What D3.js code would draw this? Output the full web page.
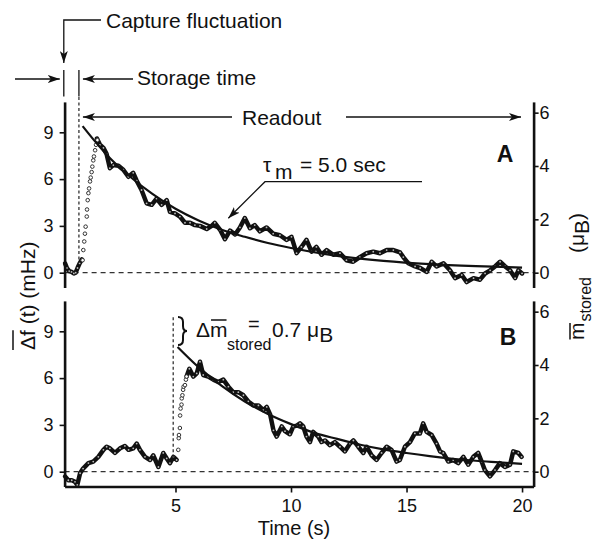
<!DOCTYPE html>
<html>
<head>
<meta charset="utf-8">
<script src="https://cdn.jsdelivr.net/npm/d3@7"></script>
<style>
body { margin: 0; background: #fff; }
svg text { font-family: "Liberation Sans", Arial, Helvetica, sans-serif; fill: #111; }
</style>
</head>
<body>
<div id="chart"></div>
<script>
// ---- data: [time (s), mean frequency shift (mHz)] ----
var preA = [[0.22,0.6],[0.3,0.3],[0.4,0.1],[0.5,0.05],[0.6,-0.05],[0.68,0.0],[0.76,0.3],[0.85,0.6],[0.95,0.85]];
var riseA = [[0.98,0.8],[1.01,1.45],[1.05,2.0],[1.08,2.5],[1.11,2.95],[1.16,3.6],[1.17,4.05],[1.2,4.65],
  [1.23,5.1],[1.26,5.4],[1.3,5.85],[1.33,6.1],[1.37,6.45],[1.4,6.8],[1.44,7.2],[1.47,7.45],[1.52,7.85],[1.56,8.2],[1.62,8.5]];
var decayA = [[1.6,8.6],[1.73,8.2],[1.88,8.0],[2.02,7.6],[2.16,6.7],[2.31,6.9],[2.53,6.85],[2.74,6.6],[2.96,6.15],
  [3.17,6.4],[3.32,5.9],[3.53,5.3],[3.75,4.45],[3.97,4.35],[4.18,4.75],[4.4,4.35],[4.62,4.65],[4.76,3.9],[4.98,3.8],
  [5.19,3.6],[5.41,3.2],[5.63,3.2],[5.84,3.05],[6.06,3.0],[6.35,2.8],[6.57,3.0],[6.7,3.2],[6.93,2.75],[7.14,2.15],
  [7.36,2.7],[7.58,2.45],[7.79,2.9],[8.0,3.5],[8.22,2.85],[8.43,3.05],[8.65,2.65],[8.94,2.9],[9.23,2.5],[9.52,2.4],
  [9.81,2.1],[10.02,2.3],[10.24,1.25],[10.45,1.65],[10.67,2.1],[10.89,1.35],[11.1,1.65],[11.32,1.15],[11.54,1.45],
  [11.83,1.15],[12.12,1.25],[12.4,0.8],[12.69,0.7],[12.98,1.0],[13.27,1.25],[13.56,1.35],[13.85,1.25],[14.14,1.45],
  [14.43,1.45],[14.72,1.3],[14.86,1.0],[15.08,0.6],[15.37,0.4],[15.59,0.3],[15.87,0.05],[16.09,0.7],[16.3,0.4],
  [16.6,0.6],[16.88,0.15],[17.1,-0.35],[17.39,-0.15],[17.6,-0.6],[17.9,-0.35],[18.18,-0.45],[18.4,-0.05],[18.62,0.15],
  [18.83,0.4],[19.05,0.7],[19.27,0.4],[19.48,0.15],[19.7,-0.35],[19.84,0.15],[20.0,-0.05]];

var preB = [[0.22,-0.3],[0.36,-0.55],[0.51,-0.55],[0.65,-0.65],[0.75,-0.85],[0.87,-0.1],[1.0,0.2],[1.23,0.55],
  [1.44,0.65],[1.66,0.95],[1.88,1.4],[2.02,1.6],[2.16,1.5],[2.38,1.2],[2.6,1.5],[2.81,1.65],[2.97,1.4],[3.17,1.5],
  [3.32,1.8],[3.46,1.4],[3.68,0.95],[3.9,0.75],[4.04,1.05],[4.26,0.3],[4.47,1.2],[4.62,0.85],[4.76,0.55],[4.91,0.95],[5.05,0.75]];
var riseB = [[5.12,1.4],[5.14,2.15],[5.15,2.35],[5.19,2.8],[5.2,3.6],[5.22,4.05],[5.26,4.3],[5.27,4.7],[5.3,4.9],
  [5.33,5.25],[5.35,5.45],[5.41,5.55],[5.45,5.9],[5.48,6.1]];
var decayB = [[5.48,6.1],[5.6,6.6],[5.77,6.1],[5.92,6.3],[6.06,7.05],[6.2,6.2],[6.42,6.1],[6.64,5.9],[6.85,5.75],
  [7.07,5.9],[7.29,5.45],[7.5,5.1],[7.72,5.1],[7.94,4.9],[8.15,4.5],[8.37,4.25],[8.59,4.25],[8.8,3.95],[8.95,4.15],
  [9.1,3.65],[9.24,2.65],[9.38,2.25],[9.6,2.9],[9.74,2.6],[9.95,2.4],[10.1,2.9],[10.25,2.95],[10.39,3.1],[10.53,2.9],
  [10.67,2.25],[10.82,1.9],[10.96,2.55],[11.18,2.25],[11.32,1.9],[11.47,2.0],[11.68,1.7],[11.9,1.9],[12.12,1.6],
  [12.33,1.3],[12.55,1.8],[12.7,2.0],[12.91,1.6],[13.13,1.2],[13.27,1.6],[13.49,1.05],[13.7,0.75],[13.92,1.2],
  [14.14,1.6],[14.35,1.4],[14.57,0.65],[14.71,0.75],[14.93,1.6],[15.15,1.9],[15.36,2.45],[15.58,2.45],[15.72,3.1],
  [15.87,2.55],[16.09,2.35],[16.3,1.8],[16.45,1.3],[16.59,1.2],[16.81,0.65],[17.02,0.75],[17.24,0.55],[17.46,0.95],
  [17.67,0.45],[17.89,0.95],[18.1,1.2],[18.25,0.65],[18.39,0.1],[18.61,-0.3],[18.83,0.1],[19.04,0.55],[19.26,0.3],
  [19.48,0.45],[19.62,1.3],[19.84,1.2],[19.98,0.95]];

// fitted decay curves
var fitA = [[0.98,9.4],[1.5,8.45],[2,7.6],[3,6.2],[4,5.05],[5,4.1],[6,3.35],[7,2.75],[8,2.3],[9,1.9],
  [10,1.58],[12,1.08],[14,0.76],[16,0.55],[18,0.42],[20,0.33]];
var fitB = [[5.09,8.0],[6,6.7],[7,5.5],[8,4.5],[9,3.7],[10,3.05],[11,2.5],[12,2.1],[13,1.73],[14,1.43],
  [15,1.2],[16,1.0],[17,0.83],[18,0.7],[19,0.6],[20,0.5]];

var timeTicks = [5, 10, 15, 20];
var leftTicks = [0, 3, 6, 9];
var rightTicks = [0, 2, 4, 6];
var mHzPerMuB = 1.71;   // right axis scale factor
var captureA = 0.82, captureB = 4.9;

var width = 597, height = 540;

var svg = d3.select("#chart").append("svg")
  .attr("width", width).attr("height", height);

var defs = svg.append("defs");
defs.append("marker").attr("id", "arrow")
  .attr("viewBox", "0 0 12 8").attr("refX", 12).attr("refY", 4)
  .attr("markerWidth", 12).attr("markerHeight", 8)
  .attr("markerUnits", "userSpaceOnUse").attr("orient", "auto")
  .append("path").attr("d", "M0,0 L12,4 L0,8 L3,4 Z").attr("fill", "#111");

var x = d3.scaleLinear().domain([0.2, 20.5]).range([64.6, 533.6]);
var yA = d3.scaleLinear().domain([-0.95, 10.95]).range([287.5, 101.9]);
var yB = d3.scaleLinear().domain([-0.95, 10.95]).range([486.5, 300.9]);

function rightScale(y) {
  return d3.scaleLinear().domain(y.domain().map(function(d) { return d / mHzPerMuB; })).range(y.range());
}

function styleAxis(g, size) {
  g.attr("font-size", null).attr("font-family", null);
  g.select(".domain").attr("stroke", "#111").attr("stroke-width", 2.6);
  g.selectAll(".tick line").attr("stroke", "#111").attr("stroke-width", 1.6);
  g.selectAll(".tick text").style("font-size", size + "px").attr("fill", "#111");
}

function panel(y, pre, rise, decay, fit, letter, letterPos, bottom) {
  var yr = rightScale(y);
  var g = svg.append("g");

  // zero line
  g.append("line")
    .attr("x1", x.range()[0]).attr("x2", x.range()[1])
    .attr("y1", y(0)).attr("y2", y(0))
    .attr("stroke", "#333").attr("stroke-width", 1.2).attr("stroke-dasharray", "5,4");

  var line = d3.line().x(function(d) { return x(d[0]); }).y(function(d) { return y(d[1]); });

  [pre, decay].forEach(function(seg) {
    g.append("path").datum(seg).attr("d", line)
      .attr("fill", "none").attr("stroke", "#111").attr("stroke-width", 4.5)
      .attr("stroke-linejoin", "round").attr("stroke-linecap", "round");
    g.selectAll(null).data(seg).enter().append("circle")
      .attr("cx", function(d) { return x(d[0]); }).attr("cy", function(d) { return y(d[1]); })
      .attr("r", 0.9).attr("fill", "#bbb").attr("stroke", "none");
  });

  g.selectAll(null).data(rise).enter().append("circle")
    .attr("cx", function(d) { return x(d[0]); }).attr("cy", function(d) { return y(d[1]); })
    .attr("r", 1.8).attr("fill", "#fff").attr("stroke", "#333").attr("stroke-width", 1);

  g.append("path").datum(fit).attr("d", line.curve(d3.curveMonotoneX))
    .attr("fill", "none").attr("stroke", "#111").attr("stroke-width", 2.2);

  g.append("g").attr("transform", "translate(" + x.range()[0] + ",0)")
    .call(d3.axisLeft(y).tickValues(leftTicks).tickSize(5).tickPadding(6).tickSizeOuter(0))
    .call(styleAxis, 18);
  g.append("g").attr("transform", "translate(" + x.range()[1] + ",0)")
    .call(d3.axisRight(yr).tickValues(rightTicks).tickFormat(d3.format("d"))
      .tickSize(5).tickPadding(1).tickSizeOuter(0))
    .call(styleAxis, 18);
  if (bottom) {
    g.append("g").attr("transform", "translate(0," + y.range()[0] + ")")
      .call(d3.axisBottom(x).tickValues(timeTicks).tickSize(6).tickPadding(7).tickSizeOuter(0))
      .call(styleAxis, 18);
  }

  g.append("text").attr("x", letterPos[0]).attr("y", letterPos[1])
    .attr("text-anchor", "middle").style("font-size", "23px").style("font-weight", "bold")
    .text(letter);
  return g;
}

panel(yA, preA, riseA, decayA, fitA, "A", [505, 162], false);
panel(yB, preB, riseB, decayB, fitB, "B", [508, 345], true);

// ---- annotations ----
var ann = svg.append("g").attr("stroke", "#111").attr("stroke-width", 1.3).attr("fill", "none");
function arrow(d) { ann.append("path").attr("d", d).attr("marker-end", "url(#arrow)"); }
function label(xx, yy, s, size, anchor) {
  return svg.append("text").attr("x", xx).attr("y", yy)
    .attr("text-anchor", anchor || "start").style("font-size", (size || 21) + "px").text(s);
}

var xAxisLeft = x.range()[0] - 0.8;
arrow("M101,20 H" + xAxisLeft + " V63");
label(106, 28, "Capture fluctuation");

ann.append("line").attr("x1", xAxisLeft).attr("x2", xAxisLeft).attr("y1", 70).attr("y2", 96.5);
ann.append("line").attr("x1", x(captureA)).attr("x2", x(captureA)).attr("y1", 70).attr("y2", 96.5);
arrow("M15,79 H" + (xAxisLeft - 4));
arrow("M133,79 H" + (x(captureA) + 4));
label(137, 85, "Storage time");

arrow("M232,117 H" + (x(captureA) + 4));
label(242, 125, "Readout");
arrow("M346,117 H521");

// capture markers
svg.append("line").attr("x1", x(captureA)).attr("x2", x(captureA))
  .attr("y1", 97).attr("y2", yA(0.65))
  .attr("stroke", "#222").attr("stroke-width", 1.2).attr("stroke-dasharray", "3,2.5");
svg.append("line").attr("x1", x(captureB)).attr("x2", x(captureB))
  .attr("y1", yB(9.9)).attr("y2", yB(0.75))
  .attr("stroke", "#222").attr("stroke-width", 1.2).attr("stroke-dasharray", "3,2.5");

// tau label
label(263, 171.5, "\u03c4");
label(275, 179, "m");
label(300, 171.5, "= 5.0 sec");
arrow("M422,181.7 H265 L228.3,218.3");

// brace and delta m label in panel B
ann.append("path").attr("stroke-width", 2)
  .attr("d", "M178,317 q5,0 5,5 v4 q0,5 4,5 q-4,0 -4,5 v4 q0,5 -5,5");
var tD = label(196, 337, "\u0394");
var mX = 196 + tD.node().getComputedTextLength();
var tM = label(mX, 337, "m");
ann.append("line").attr("x1", mX + 1).attr("x2", mX + tM.node().getComputedTextLength() - 1)
  .attr("y1", 320).attr("y2", 320).attr("stroke-width", 1.5);
label(227, 350, "stored", 16);
label(248, 331, "=", 20);
var t07 = label(272, 337, "0.7 \u03bc");
label(272 + t07.node().getComputedTextLength(), 342, "B");

// left axis title
var lt = svg.append("g").attr("transform", "translate(35,350) rotate(-90)");
var ltxt = lt.append("text").style("font-size", "21px");
var dfSpan = ltxt.append("tspan").text("\u0394f");
ltxt.append("tspan").text(" (t) (mHz)");
lt.append("line").attr("x1", 0).attr("x2", dfSpan.node().getComputedTextLength())
  .attr("y1", -22).attr("y2", -22).attr("stroke", "#111").attr("stroke-width", 1.5);

// right axis title
var rt = svg.append("g").attr("transform", "translate(584,340) rotate(-90)");
var rm = rt.append("text").style("font-size", "21px").text("m");
var rmW = rm.node().getComputedTextLength();
rt.append("line").attr("x1", 0.5).attr("x2", rmW - 0.5).attr("y1", -14).attr("y2", -14)
  .attr("stroke", "#111").attr("stroke-width", 1.5);
rt.append("text").attr("x", rmW + 1).attr("y", 7).style("font-size", "16px").text("stored");
var rp = rt.append("text").attr("x", 87).style("font-size", "21px").text("(\u03bc");
var rpW = rp.node().getComputedTextLength();
var rb = rt.append("text").attr("x", 87 + rpW).attr("y", 5).style("font-size", "21px").text("B");
rt.append("text").attr("x", 87 + rpW + rb.node().getComputedTextLength()).style("font-size", "21px").text(")");

// x axis title
label(294, 535, "Time (s)", 20, "middle");
</script>
</body>
</html>
